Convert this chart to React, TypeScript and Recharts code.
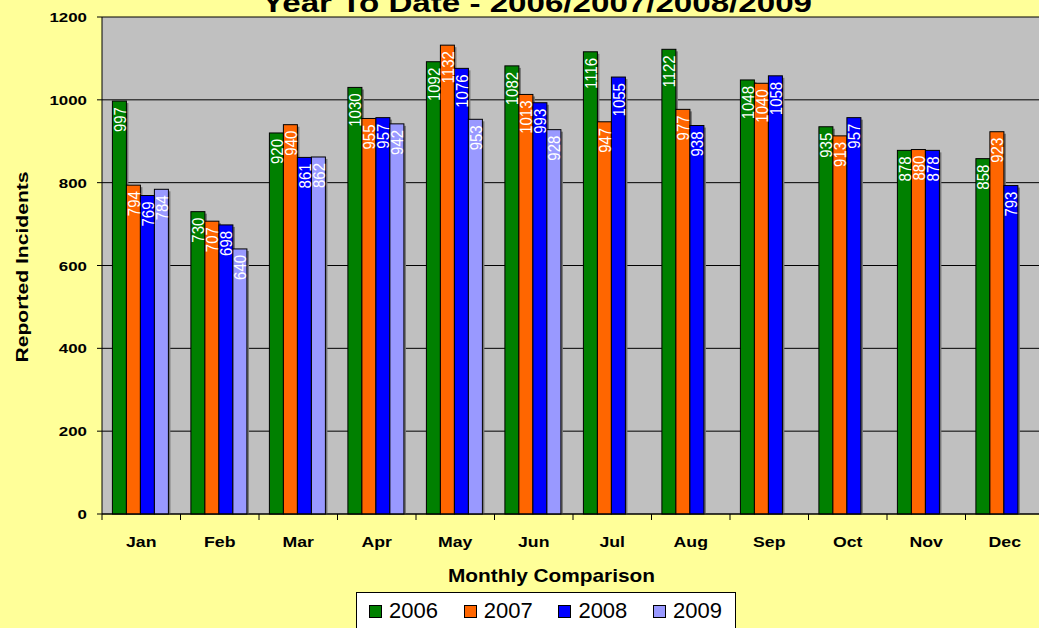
import React from 'react';
import { BarChart, Bar, XAxis, YAxis, CartesianGrid, LabelList, Legend } from 'recharts';

const months = ['Jan', 'Feb', 'Mar', 'Apr', 'May', 'Jun', 'Jul', 'Aug', 'Sep', 'Oct', 'Nov', 'Dec'];
const values2006 = [997, 730, 920, 1030, 1092, 1082, 1116, 1122, 1048, 935, 878, 858];
const values2007 = [794, 707, 940, 955, 1132, 1013, 947, 977, 1040, 913, 880, 923];
const values2008 = [769, 698, 861, 957, 1076, 993, 1055, 938, 1058, 957, 878, 793];
const values2009: (number | null)[] = [784, 640, 862, 942, 953, 928, null, null, null, null, null, null];
const seriesNames = ['2006', '2007', '2008', '2009'];
const seriesColors = ['#008000', '#FF6600', '#0000FF', '#9999FF'];
const yTicks = [0, 200, 400, 600, 800, 1000, 1200];
const chartTitle = 'Year To Date - 2006/2007/2008/2009';
const xTitle = 'Monthly Comparison';
const yTitle = 'Reported Incidents';

const seriesValues = [values2006, values2007, values2008, values2009];
const data = months.map((m, i) => {
  const row: any = { month: m };
  seriesNames.forEach((s, k) => {
    row['y' + s] = seriesValues[k][i];
  });
  return row;
});

const FONT = '"Liberation Sans", Arial, Helvetica, sans-serif';
const CHART_W = 1060;
const CHART_H = 628;
const MARGIN = { top: 17, right: 16, bottom: 84, left: 2 };
const Y_AXIS_W = 100;
const X_AXIS_H = 30;
const PLOT_LEFT = MARGIN.left + Y_AXIS_W;
const PLOT_RIGHT = CHART_W - MARGIN.right;
const PLOT_BOTTOM = CHART_H - MARGIN.bottom - X_AXIS_H;
const BAND = (PLOT_RIGHT - PLOT_LEFT) / months.length;

const BarShape = (props: any) => {
  const { x, y, width, height, fill } = props;
  if (height == null || width == null || height <= 0) return null;
  return (
    <g>
      <rect x={x + 2} y={y + 2} width={width} height={Math.max(0, height - 2)} fill="#767676" />
      <rect x={x} y={y} width={width} height={height} fill={fill} stroke="#000" strokeWidth={1} />
    </g>
  );
};

const renderValueLabel = (props: any) => {
  const { value } = props;
  if (value == null) return null;
  const vb = props.viewBox || {};
  const x = props.x ?? vb.x;
  const y = props.y ?? vb.y;
  const width = props.width ?? vb.width;
  const cx = x + width / 2;
  return (
    <text
      transform={`translate(${cx}, ${y + 6}) scale(1.15, 1) rotate(-90)`}
      textAnchor="end"
      dominantBaseline="central"
      fill="#fff"
      fontSize={15}
      fontFamily={FONT}
    >
      {value}
    </text>
  );
};

const XTick = (props: any) => {
  const { x, payload, index } = props;
  const last = index === months.length - 1;
  return (
    <g>
      <line x1={x - BAND / 2} x2={x - BAND / 2} y1={PLOT_BOTTOM} y2={PLOT_BOTTOM + 6} stroke="#000" />
      {last && <line x1={x + BAND / 2} x2={x + BAND / 2} y1={PLOT_BOTTOM} y2={PLOT_BOTTOM + 6} stroke="#000" />}
      <text
        transform={`translate(${x}, ${PLOT_BOTTOM + 33}) scale(1.22, 1)`}
        textAnchor="middle"
        fontSize={14.5}
        fontWeight="bold"
        fontFamily={FONT}
        fill="#000"
      >
        {payload.value}
      </text>
    </g>
  );
};

const YTick = (props: any) => {
  const { y, payload } = props;
  return (
    <text
      transform={`translate(${PLOT_LEFT - 15}, ${y + 5}) scale(1.25, 1)`}
      textAnchor="end"
      fontSize={13.5}
      fontWeight="bold"
      fontFamily={FONT}
      fill="#000"
    >
      {payload.value}
    </text>
  );
};

const renderLegend = (props: any) => {
  const payload = props.payload || [];
  return (
    <div
      style={{
        position: 'relative',
        width: 380,
        height: 44,
        background: '#fff',
        border: '1px solid #000',
        boxSizing: 'border-box',
        fontFamily: FONT,
      }}
    >
      {payload.map((e: any, i: number) => (
        <div key={i} style={{ position: 'absolute', left: 12 + i * 94.7, top: 0, height: 40 }}>
          <div
            style={{
              position: 'absolute',
              left: 0,
              top: 12,
              width: 13,
              height: 13,
              background: e.color,
              border: '1px solid #000',
              boxSizing: 'border-box',
            }}
          />
          <div
            style={{
              position: 'absolute',
              left: 20,
              top: 7,
              fontSize: 22,
              lineHeight: '22px',
              whiteSpace: 'nowrap',
              color: '#000',
            }}
          >
            {e.value}
          </div>
        </div>
      ))}
    </div>
  );
};

export default function App() {
  return (
    <div
      style={{
        position: 'absolute',
        left: 0,
        top: 0,
        width: 1039,
        height: 628,
        overflow: 'hidden',
        background: '#FFFF99',
      }}
    >
      <BarChart
        width={CHART_W}
        height={CHART_H}
        data={data}
        margin={MARGIN}
        barCategoryGap="13.25%"
        barGap={0}
      >
        <CartesianGrid vertical={false} stroke="#000" fill="#C0C0C0" fillOpacity={1} />
        <XAxis
          dataKey="month"
          height={X_AXIS_H}
          axisLine={{ stroke: '#000' }}
          tickLine={false}
          tick={<XTick />}
          interval={0}
        />
        <YAxis
          width={Y_AXIS_W}
          domain={[0, 1200]}
          ticks={yTicks}
          axisLine={{ stroke: '#000' }}
          tickLine={{ stroke: '#000' }}
          tickSize={5}
          tick={<YTick />}
          interval={0}
        />
        {seriesNames.map((s, k) => (
          <Bar
            key={s}
            dataKey={'y' + s}
            name={s}
            fill={seriesColors[k]}
            isAnimationActive={false}
            shape={<BarShape />}
          >
            <LabelList dataKey={'y' + s} content={renderValueLabel} />
          </Bar>
        ))}
        <Legend
          layout="horizontal"
          verticalAlign="middle"
          align="center"
          content={renderLegend}
          wrapperStyle={{ position: 'absolute', left: 356, top: 592, width: 380, height: 44, margin: 0 }}
        />
      </BarChart>
      <svg
        width={1039}
        height={628}
        style={{ position: 'absolute', left: 0, top: 0, pointerEvents: 'none' }}
      >
        <text
          x={537}
          y={12}
          textAnchor="middle"
          fontSize={26}
          fontWeight="bold"
          fontFamily={FONT}
          textLength={550}
          lengthAdjust="spacingAndGlyphs"
          fill="#000"
        >
          {chartTitle}
        </text>
        <text
          x={551.5}
          y={582}
          textAnchor="middle"
          fontSize={19}
          fontWeight="bold"
          fontFamily={FONT}
          textLength={207}
          lengthAdjust="spacingAndGlyphs"
          fill="#000"
        >
          {xTitle}
        </text>
        <text
          transform="translate(28, 267) rotate(-90)"
          textAnchor="middle"
          fontSize={16}
          fontWeight="bold"
          fontFamily={FONT}
          textLength={191}
          lengthAdjust="spacingAndGlyphs"
          fill="#000"
        >
          {yTitle}
        </text>
      </svg>
    </div>
  );
}
